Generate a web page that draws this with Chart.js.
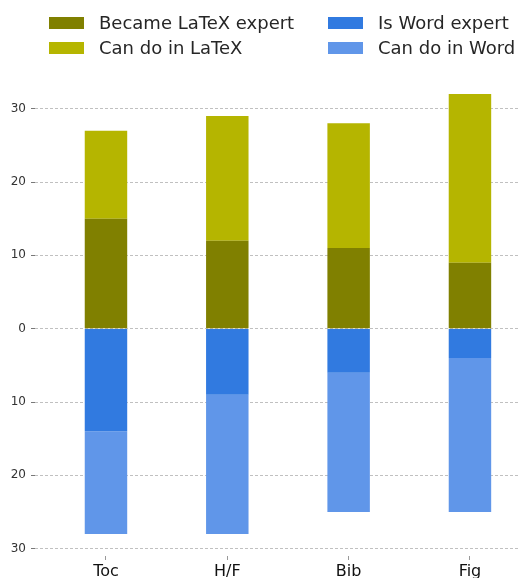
<!DOCTYPE html>
<html><head><meta charset="utf-8">
<script src="https://cdn.jsdelivr.net/npm/chart.js@4/dist/chart.umd.min.js"></script>
<style>html,body{margin:0;padding:0;background:#fff;overflow:hidden}#wrap{position:relative;width:518px;height:578px}</style>
</head><body><div id="wrap"><canvas id="c"></canvas></div>
<script>
const categories = ["Toc", "H/F", "Bib", "Fig"];
const becameLatexExpert = [15, 12, 11, 9];
const canDoInLatex = [12, 17, 17, 23];
const isWordExpert = [14, 9, 6, 4];
const canDoInWord = [14, 19, 19, 21];
const yTicks = [-30, -20, -10, 0, 10, 20, 30];

const toPts = (arr, sign) => arr.map((v, i) => ({x: i, y: sign * v}));
const FONT = "'DejaVu Sans', sans-serif";

const legendItems = [
  {label: "Became LaTeX expert", color: "#808000", col: 0, row: 0},
  {label: "Can do in LaTeX", color: "#b5b500", col: 0, row: 1},
  {label: "Is Word expert", color: "#317ae0", col: 1, row: 0},
  {label: "Can do in Word", color: "#6096e9", col: 1, row: 1}
];
const legendPlugin = {
  id: 'gridLegend',
  afterDraw(chart) {
    const ctx = chart.ctx;
    ctx.save();
    ctx.font = "18px " + FONT;
    ctx.textBaseline = 'middle';
    const colX = [49, 328], rowY = [23, 48];
    legendItems.forEach(it => {
      const x = colX[it.col], y = rowY[it.row];
      ctx.fillStyle = it.color;
      ctx.fillRect(x, y - 6, 35, 12);
      ctx.fillStyle = '#262626';
      ctx.fillText(it.label, x + 50, y + 1);
    });
    ctx.restore();
  }
};

new Chart(document.getElementById('c'), {
  type: 'bar',
  data: {
    datasets: [
      {label: "Became LaTeX expert", data: toPts(becameLatexExpert, 1), backgroundColor: "#808000", stack: 's'},
      {label: "Can do in LaTeX", data: toPts(canDoInLatex, 1), backgroundColor: "#b5b500", stack: 's'},
      {label: "Is Word expert", data: toPts(isWordExpert, -1), backgroundColor: "#317ae0", stack: 's'},
      {label: "Can do in Word", data: toPts(canDoInWord, -1), backgroundColor: "#6096e9", stack: 's'}
    ]
  },
  options: {
    responsive: true, maintainAspectRatio: false, animation: false,
    layout: {padding: {top: 72, right: 0, left: 0, bottom: 0}},
    barPercentage: 0.35, categoryPercentage: 1,
    plugins: {legend: {display: false}, tooltip: {enabled: false}},
    scales: {
      x: {
        type: 'linear', min: -0.585, max: 3.396, stacked: true, offset: false,
        afterBuildTicks: s => { s.ticks = categories.map((c, i) => ({value: i})); },
        afterFit: s => { s.height = 22; },
        ticks: {callback: v => categories[v] ?? '', font: {family: FONT, size: 16}, color: '#111', padding: 2, maxRotation: 0},
        grid: {offset: false, drawOnChartArea: false, drawTicks: true, tickLength: 4, tickColor: '#999'},
        border: {display: false}
      },
      y: {
        min: -31, max: 35, stacked: true,
        afterBuildTicks: s => { s.ticks = yTicks.map(v => ({value: v})); },
        afterFit: s => { s.width = 35; },
        ticks: {callback: v => Math.abs(v), font: {family: FONT, size: 12}, color: '#333', padding: 5},
        grid: {color: '#b0b0b0', lineWidth: 0.8, tickLength: 4, tickColor: '#555', tickBorderDash: [], borderDash: [3, 2]},
        border: {display: false, dash: [3, 2]}
      }
    }
  },
  plugins: [legendPlugin]
});
</script></body></html>
